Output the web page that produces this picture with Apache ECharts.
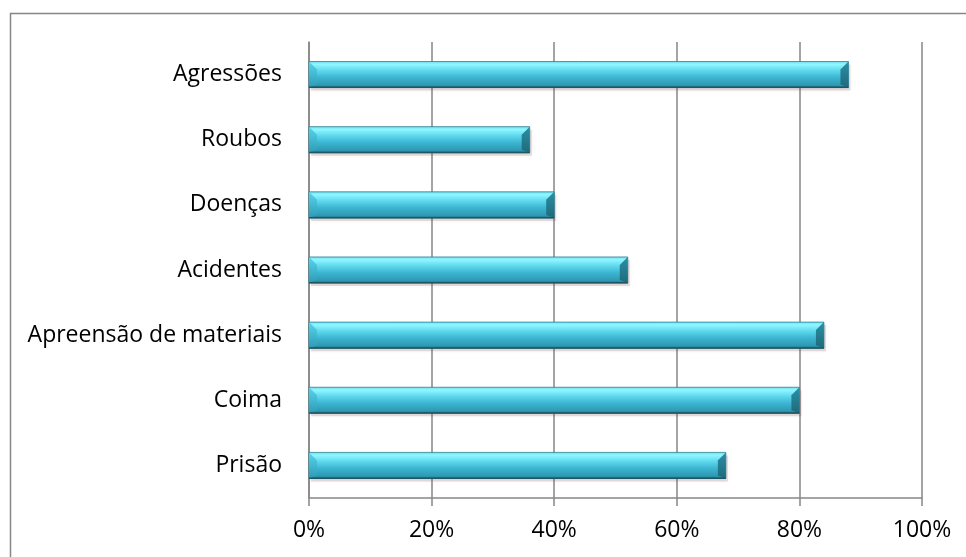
<!DOCTYPE html>
<html>
<head>
<meta charset="utf-8">
<script src="https://cdn.jsdelivr.net/npm/echarts@6/dist/echarts.min.js"></script>
<style>html,body{margin:0;padding:0;background:#fff}#c{width:966px;height:557px}</style>
</head>
<body>
<div id="c"></div>
<script>
var categories = ['Prisão', 'Coima', 'Apreensão de materiais', 'Acidentes', 'Doenças', 'Roubos', 'Agressões'];
var values = [68, 80, 84, 52, 40, 36, 88];
var tickLabels = ['0%', '20%', '40%', '60%', '80%', '100%'];

var chart = echarts.init(document.getElementById('c'));

function bodyGrad() {
  return new echarts.graphic.LinearGradient(0, 0, 0, 1, [
    {offset: 0, color: '#6fdcef'},
    {offset: 0.12, color: '#8ff7ff'},
    {offset: 0.35, color: '#5fd8ee'},
    {offset: 0.6, color: '#3cb6d2'},
    {offset: 0.9, color: '#2e98b2'},
    {offset: 1, color: '#1f6474'}
  ]);
}

function renderItem(params, api) {
  var idx = api.value(0);
  var v = api.value(1);
  var p0 = api.coord([0, idx]);
  var p1 = api.coord([v, idx]);
  var band = api.size([0, 1])[1];
  var h = band * 0.4;
  var x0 = p0[0], x1 = p1[0];
  var y0 = p0[1] - h / 2, y1 = p0[1] + h / 2;
  var b = 8;
  return {
    type: 'group',
    children: [
      {type: 'rect', shape: {x: x0 + 2, y: y0 + 3, width: x1 - x0, height: h},
        style: {fill: 'rgba(120,60,60,0.18)', shadowBlur: 5, shadowColor: 'rgba(90,40,40,0.35)'}},
      {type: 'rect', shape: {x: x0, y: y0, width: x1 - x0, height: h},
        style: {fill: bodyGrad(), stroke: '#2a7f93', lineWidth: 0.8}},
      {type: 'polygon', shape: {points: [[x0, y0], [x0 + b, y0 + b], [x0 + b, y1 - 3], [x0, y1]]},
        style: {fill: new echarts.graphic.LinearGradient(0, 0, 0, 1, [
          {offset: 0, color: '#56d6ee'}, {offset: 1, color: '#2f9ab4'}])}},
      {type: 'polygon', shape: {points: [[x1, y0], [x1 - b, y0 + b], [x1 - b, y1 - 3], [x1, y1]]},
        style: {fill: new echarts.graphic.LinearGradient(0, 0, 0, 1, [
          {offset: 0, color: '#2b8fa6'}, {offset: 1, color: '#1f6a7a'}])}},
      {type: 'rect', shape: {x: x0, y: y1 - 1, width: x1 - x0, height: 1.5},
        style: {fill: '#1d5764'}}
    ]
  };
}

var data = values.map(function (v, i) { return [i, v]; });
var FONT = '"Open Sans", Lato, sans-serif';

chart.setOption({
  animation: false,
  backgroundColor: '#fff',
  graphic: [{
    type: 'rect', silent: true, z: -10,
    shape: {x: 10.5, y: 13.5, width: 1000, height: 1000},
    style: {fill: 'none', stroke: '#868686', lineWidth: 1.5}
  }],
  grid: {left: 309, right: 44, top: 42, bottom: 59},
  xAxis: {
    type: 'value', min: 0, max: 100, interval: 20,
    axisLine: {show: true, lineStyle: {color: '#868686', width: 1.5}},
    axisTick: {show: true, length: 8, lineStyle: {color: '#868686', width: 1.5}},
    splitLine: {show: true, lineStyle: {color: '#868686', width: 1.5}},
    axisLabel: {
      formatter: function (v) { return tickLabels[Math.round(v / 20)]; },
      color: '#000', fontFamily: FONT, fontSize: 23, margin: 21
    }
  },
  yAxis: {
    type: 'category', data: categories,
    axisLine: {show: true, lineStyle: {color: '#868686', width: 1.5}},
    axisTick: {show: false},
    axisLabel: {color: '#000', fontFamily: FONT, fontSize: 23, margin: 27}
  },
  series: [{
    type: 'custom',
    renderItem: renderItem,
    encode: {x: 1, y: 0},
    data: data
  }]
});
</script>
</body>
</html>
